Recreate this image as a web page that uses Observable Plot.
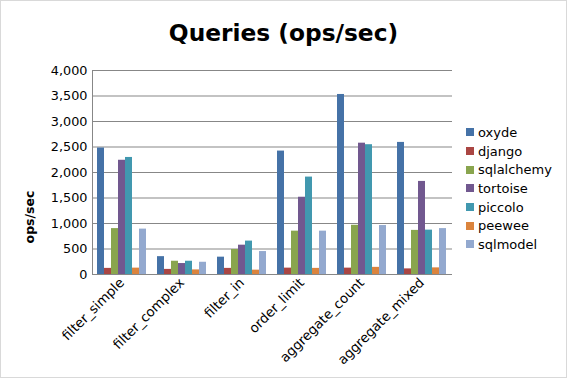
<!DOCTYPE html>
<html>
<head>
<meta charset="utf-8">
<script src="https://cdn.jsdelivr.net/npm/d3@7"></script>
<script src="https://cdn.jsdelivr.net/npm/@observablehq/plot@0.6"></script>
<style>
  html, body { margin: 0; padding: 0; background: #fff; }
  #wrap { position: relative; width: 567px; height: 378px; overflow: hidden; font-family: "DejaVu Sans", sans-serif; background: #fff; }
  #base, #chart { position: absolute; left: 0; top: 0; }
  #title { position: absolute; left: 0; top: 21px; width: 567px; text-align: center; font-size: 23.3px; line-height: 23px; font-weight: bold; color: #000; }
  #ylabel { position: absolute; left: 29px; top: 217px; transform: translate(-50%, -50%) rotate(-90deg); font-size: 12.5px; font-weight: bold; white-space: nowrap; color: #000; }
  #legend { position: absolute; left: 466px; top: 123px; font-size: 13px; color: #000; }
  #legend .row { display: flex; align-items: center; height: 18.7px; }
  #legend .sw { width: 8px; height: 8px; margin-right: 4px; }
  #border { position: absolute; left: 0; top: 0; width: 567px; height: 378px; box-sizing: border-box; border: 1px solid #d9d9d9; pointer-events: none; }
</style>
</head>
<body>
<div id="wrap">
  <div id="base"></div>
  <div id="chart"></div>
  <div id="title">Queries (ops/sec)</div>
  <div id="ylabel">ops/sec</div>
  <div id="legend"></div>
  <div id="border"></div>
</div>
<script>
const categories = ["filter_simple", "filter_complex", "filter_in", "order_limit", "aggregate_count", "aggregate_mixed"];
const series = ["oxyde", "django", "sqlalchemy", "tortoise", "piccolo", "peewee", "sqlmodel"];
const colors = ["#4572A7", "#AA4643", "#89A54E", "#71588F", "#4198AF", "#DB843D", "#93A9CF"];
const oxyde      = [2480, 350, 340, 2420, 3530, 2590];
const django     = [120, 100, 120, 125, 125, 110];
const sqlalchemy = [900, 260, 490, 850, 965, 865];
const tortoise   = [2240, 215, 575, 1515, 2575, 1825];
const piccolo    = [2295, 260, 655, 1910, 2545, 870];
const peewee     = [125, 90, 85, 120, 140, 130];
const sqlmodel   = [890, 240, 450, 850, 960, 900];
const yTicks = [0, 500, 1000, 1500, 2000, 2500, 3000, 3500, 4000];

const valuesBySeries = {oxyde, django, sqlalchemy, tortoise, piccolo, peewee, sqlmodel};
const data = [];
categories.forEach((c, i) => {
  series.forEach(s => data.push({category: c, series: s, value: valuesBySeries[s][i]}));
});

const common = {
  width: 567,
  height: 378,
  marginLeft: 92,
  marginRight: 115,
  marginTop: 70,
  marginBottom: 104,
  style: {fontFamily: "DejaVu Sans, sans-serif", fontSize: "12.5px", color: "#000", background: "transparent"},
  y: {domain: [0, 4000], label: null}
};

// Base layer: gridlines, left axis line, y tick labels
const base = Plot.plot({
  ...common,
  marks: [
    Plot.ruleY(yTicks, {stroke: "#878787", strokeOpacity: 1}),
    Plot.frame({anchor: "left", stroke: "#878787"}),
    Plot.axisY(yTicks, {tickSize: 0, tickPadding: 5, tickFormat: d3.format(","), label: null, fontSize: 12.8})
  ]
});
document.getElementById("base").appendChild(base);

// Bars layer: grouped bars via fx facets
const chart = Plot.plot({
  ...common,
  fx: {domain: categories, paddingInner: 0.178, paddingOuter: 0.085, label: null},
  x: {domain: series, padding: 0, axis: null, round: false},
  color: {domain: series, range: colors},
  marks: [
    Plot.barY(data, {fx: "category", x: "series", y: "value", fill: "series"}),
    Plot.axisY({ticks: [], label: null}),
    Plot.axisFx({anchor: "bottom", tickRotate: -45, tickSize: 0, tickPadding: 6, label: null, fontSize: 13.3})
  ]
});
document.getElementById("chart").appendChild(chart);

const legend = document.getElementById("legend");
series.forEach((s, i) => {
  const row = document.createElement("div");
  row.className = "row";
  const sw = document.createElement("span");
  sw.className = "sw";
  sw.style.background = colors[i];
  const t = document.createElement("span");
  t.textContent = s;
  row.appendChild(sw);
  row.appendChild(t);
  legend.appendChild(row);
});
</script>
</body>
</html>
